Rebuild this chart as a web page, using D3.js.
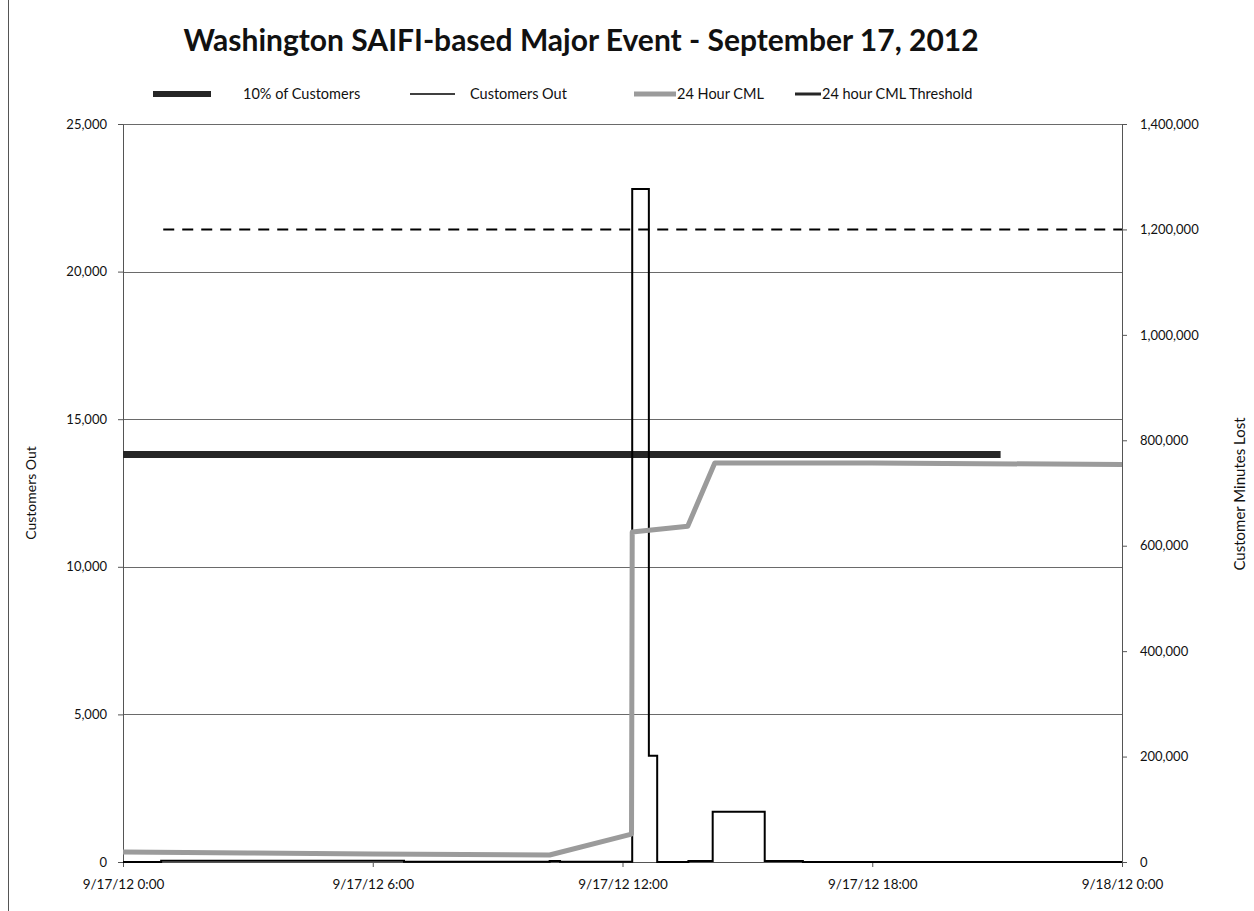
<!DOCTYPE html>
<html><head><meta charset="utf-8">
<script src="https://cdn.jsdelivr.net/npm/d3@7"></script>
<style>body{margin:0;background:#fff;} text{font-family:Lato,"Open Sans",sans-serif;fill:#111;}</style>
</head><body><svg id="c" width="1254" height="911"></svg>
<script>
const chartTitle = "Washington SAIFI-based Major Event - September 17, 2012";
const seriesNames = ["10% of Customers", "Customers Out", "24 Hour CML", "24 hour CML Threshold"];
const leftAxisTitle = "Customers Out";
const rightAxisTitle = "Customer Minutes Lost";
const xDomain = ["2012-09-17 00:00", "2012-09-18 00:00"];
const xTickTimes = ["2012-09-17 00:00", "2012-09-17 06:00", "2012-09-17 12:00", "2012-09-17 18:00", "2012-09-18 00:00"];
const xTickLabels = ["9/17/12 0:00", "9/17/12 6:00", "9/17/12 12:00", "9/17/12 18:00", "9/18/12 0:00"];
const leftTicks = [0, 5000, 10000, 15000, 20000, 25000];
const rightTicks = [0, 200000, 400000, 600000, 800000, 1000000, 1200000, 1400000];

// Customers Out (step)
const outTimes = ["2012-09-17 00:00", "2012-09-17 00:55", "2012-09-17 06:45", "2012-09-17 10:15", "2012-09-17 10:30",
  "2012-09-17 12:14", "2012-09-17 12:38", "2012-09-17 12:50", "2012-09-17 13:35", "2012-09-17 14:10",
  "2012-09-17 15:25", "2012-09-17 16:20", "2012-09-18 00:00"];
const outValues = [0, 40, 5, 30, 5, 22800, 3600, 0, 30, 1700, 30, 0, 0];

// 24 Hour CML
const cmlTimes = ["2012-09-17 00:00", "2012-09-17 03:00", "2012-09-17 06:00", "2012-09-17 10:15", "2012-09-17 12:13",
  "2012-09-17 12:14", "2012-09-17 13:34", "2012-09-17 14:13", "2012-09-17 18:00", "2012-09-18 00:00"];
const cmlValues = [19000, 17000, 15200, 13300, 53000, 626000, 637000, 757000, 757000, 754000];

// 10% of customers
const tenPctTimes = ["2012-09-17 00:00", "2012-09-17 21:05"];
const tenPctValues = [13800, 13800];

// 24 hour CML threshold
const thrTimes = ["2012-09-17 00:58", "2012-09-18 00:00"];
const thrValues = [1200000, 1200000];

const parse = d3.timeParse("%Y-%m-%d %H:%M");
const L = 123, R = 1122, T = 124, B = 862;
const svg = d3.select("#c");

const x = d3.scaleTime().domain(xDomain.map(parse)).range([L, R]);
const yL = d3.scaleLinear().domain([0, 25000]).range([B, T]);
const yR = d3.scaleLinear().domain([0, 1400000]).range([B, T]);

// outer frame line
svg.append("line").attr("x1", 8.5).attr("x2", 8.5).attr("y1", 0).attr("y2", 911).attr("stroke", "#555").attr("stroke-width", 1);

// gridlines
svg.append("g").selectAll("line").data(leftTicks.filter(d => d > 0)).join("line")
  .attr("x1", L).attr("x2", R).attr("y1", d => Math.round(yL(d)) + 0.5).attr("y2", d => Math.round(yL(d)) + 0.5)
  .attr("stroke", "#6a6a6a").attr("stroke-width", 1);

// axes
const axL = svg.append("g").attr("transform", `translate(${L},0)`)
  .call(d3.axisLeft(yL).tickValues(leftTicks).tickSize(5).tickSizeOuter(0).tickPadding(11).tickFormat(d3.format(",")));
const axR = svg.append("g").attr("transform", `translate(${R},0)`)
  .call(d3.axisRight(yR).tickValues(rightTicks).tickSize(5).tickSizeOuter(0).tickPadding(13).tickFormat(d3.format(",")));
const axB = svg.append("g").attr("transform", `translate(0,${B})`)
  .call(d3.axisBottom(x).tickValues(xTickTimes.map(parse)).tickSize(5).tickSizeOuter(0).tickPadding(12)
    .tickFormat((d, i) => xTickLabels[i]));
[axL, axR, axB].forEach(a => {
  a.selectAll("path,line").attr("stroke", "#555");
  a.selectAll("text").style("font-size", "13px").style("font-family", "Lato,'Open Sans',sans-serif").attr("fill", "#111");
});
axB.selectAll("text").style("font-size", "13.5px");

const line = (xs, ys, yScale, curve) => d3.line().curve(curve || d3.curveLinear)
  .x((d, i) => x(parse(xs[i]))).y((d, i) => yScale(ys[i]))(ys);

// 10% of customers
svg.append("path").attr("d", line(tenPctTimes, tenPctValues, yL)).attr("fill", "none")
  .attr("stroke", "#262626").attr("stroke-width", 7);
// customers out
svg.append("path").attr("d", line(outTimes, outValues, yL, d3.curveStepAfter)).attr("fill", "none")
  .attr("stroke", "#000").attr("stroke-width", 2);
// 24 hour CML
svg.append("path").attr("d", line(cmlTimes, cmlValues, yR)).attr("fill", "none")
  .attr("stroke", "#9b9b9b").attr("stroke-width", 5).attr("stroke-linejoin", "round");
// threshold
svg.append("path").attr("d", line(thrTimes, thrValues, yR)).attr("fill", "none")
  .attr("stroke", "#000").attr("stroke-width", 2).attr("stroke-dasharray", "11,8");

// title
svg.append("text").attr("x", 581).attr("y", 51).attr("text-anchor", "middle")
  .style("font-size", "30px").style("font-weight", "bold").text(chartTitle);

// legend
const legend = [
  {x1: 153, x2: 211, tx: 243, color: "#262626", w: 6},
  {x1: 410, x2: 455, tx: 470, color: "#000", w: 1.5},
  {x1: 634, x2: 676, tx: 677, color: "#9b9b9b", w: 5},
  {x1: 795, x2: 821, tx: 822, color: "#262626", w: 3}
];
const lg = svg.append("g");
legend.forEach((d, i) => {
  lg.append("line").attr("x1", d.x1).attr("x2", d.x2).attr("y1", 94).attr("y2", 94)
    .attr("stroke", d.color).attr("stroke-width", d.w);
  lg.append("text").attr("x", d.tx).attr("y", 99).style("font-size", "14.5px").text(seriesNames[i]);
});

// axis titles
svg.append("text").attr("transform", "translate(36,493) rotate(-90)").attr("text-anchor", "middle")
  .style("font-size", "14px").text(leftAxisTitle);
svg.append("text").attr("transform", "translate(1245,494) rotate(-90)").attr("text-anchor", "middle")
  .style("font-size", "15px").text(rightAxisTitle);
</script></body></html>
